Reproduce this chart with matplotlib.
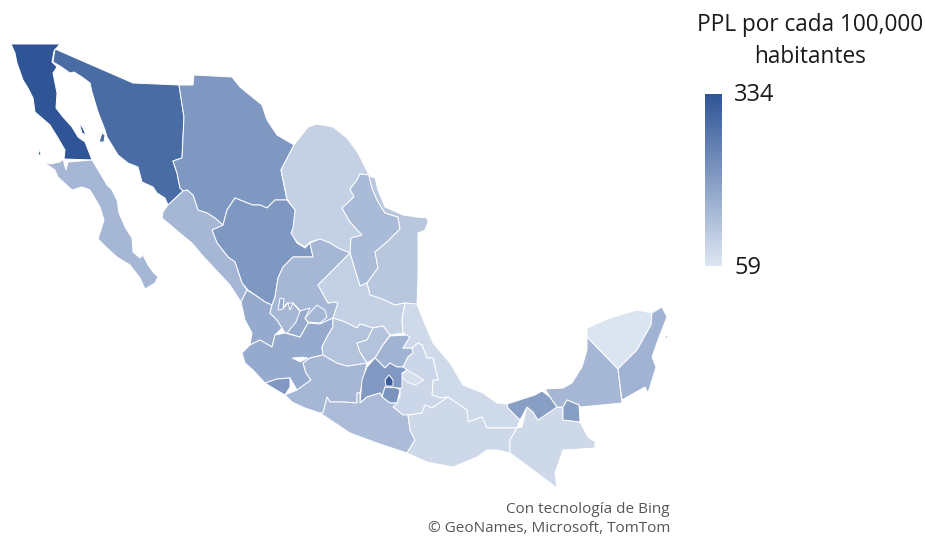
import matplotlib
matplotlib.use('Agg')
import matplotlib.pyplot as plt
import numpy as np
from matplotlib.colors import LinearSegmentedColormap, Normalize
from matplotlib.patches import Polygon

plt.rcParams['font.family'] = ['Open Sans', 'DejaVu Sans']

# PPL per 100,000
states = ['Baja California', 'Baja California Sur', 'Sonora', 'Chihuahua', 'Coahuila',
          'Nuevo Leon', 'Tamaulipas', 'Durango', 'Sinaloa', 'Nayarit', 'Zacatecas',
          'San Luis Potosi', 'Jalisco', 'Colima', 'Michoacan', 'Guanajuato', 'Queretaro',
          'Hidalgo', 'Veracruz', 'Puebla', 'Tlaxcala', 'Edomex', 'Morelos', 'CDMX',
          'Guerrero', 'Oaxaca', 'Chiapas', 'Tabasco', 'Campeche', 'Yucatan', 'Quintana Roo']
values = [334, 148, 290, 208, 100, 141, 120, 208, 148, 172, 148, 100, 172, 205, 148, 125, 125,
          155, 84, 90, 75, 205, 215, 318, 138, 86, 86, 196, 148, 64, 155]

# outlines in map units (top-left origin)
baja_california = [(11,44),(60,44),(54,51),(52,62),(57,67),(53,73),(57,93),(56,108),(63,117),(72,127),(78,137),(85,142),(92,160),(64,159),(65,150),(58,138),(50,125),(35,112),(33,98),(28,88),(23,80),(17,63),(15,53)]
baja_sur = [(43,162),(50,164),(60,162),(63,159),(66,170),(68,162),(92,160),(100,173),(107,185),(112,190),(117,200),(119,213),(125,227),(132,238),(133,252),(140,258),(143,255),(148,265),(153,272),(158,277),(155,283),(145,289),(140,278),(130,265),(117,257),(107,248),(98,239),(104,220),(100,207),(90,190),(82,187),(72,190),(58,177),(55,170)]
sonora = [(55,49),(133,83),(179,85),(184,117),(182,158),(173,161),(177,173),(180,188),(183,191),(168,205),(165,198),(157,193),(153,187),(142,182),(138,167),(128,163),(118,155),(107,137),(105,130),(98,112),(92,92),(90,83),(82,77),(74,72),(70,73),(60,66),(53,62)]
chihuahua = [(179,85),(193,85),(194,75),(232,77),(240,87),(262,105),(267,120),(277,135),(294,145),(281,170),(287,200),(275,200),(267,208),(260,205),(253,205),(245,202),(235,198),(227,210),(223,225),(215,218),(207,213),(198,210),(193,195),(187,190),(183,191),(180,188),(177,173),(173,161),(182,158),(184,117)]
coahuila = [(294,145),(308,127),(317,124),(333,127),(347,138),(358,153),(369,175),(360,174),(357,180),(350,189),(354,197),(342,208),(350,222),(362,235),(351,238),(350,253),(338,248),(330,243),(320,239),(310,242),(305,247),(297,242),(291,234),(293,227),(295,210),(287,199),(281,170)]
nuevo_leon = [(369,175),(372,188),(377,200),(385,213),(398,217),(400,229),(387,242),(375,252),(378,268),(367,283),(360,286),(355,270),(350,253),(351,238),(362,235),(350,222),(342,208),(354,197),(350,189),(357,180),(360,174)]
tamaulipas = [(369,176),(375,178),(378,190),(385,207),(403,215),(417,217),(427,218),(428,222),(425,230),(418,233),(418,253),(418,277),(417,305),(405,303),(395,305),(382,299),(370,295),(367,283),(378,268),(375,252),(387,242),(400,229),(398,217),(385,213),(377,200),(372,188)]
durango = [(235,198),(245,202),(253,205),(260,205),(267,208),(275,200),(287,200),(295,210),(293,228),(291,233),(297,243),(305,248),(310,243),(313,257),(293,257),(283,267),(278,278),(275,297),(272,305),(265,302),(258,297),(248,290),(242,283),(235,262),(228,257),(217,243),(212,230),(223,225),(227,210)]
sinaloa = [(168,205),(183,191),(187,190),(193,195),(198,210),(207,213),(215,218),(223,225),(212,230),(217,243),(228,257),(235,262),(242,283),(247,290),(241,302),(230,285),(202,255),(192,243),(182,235),(168,223),(162,218),(163,212)]
nayarit = [(247,290),(258,297),(265,302),(272,305),(270,313),(277,320),(282,328),(275,335),(272,347),(260,340),(250,345),(252,333),(245,320),(241,302)]
zacatecas = [(293,257),(313,257),(310,243),(320,239),(330,243),(338,248),(350,253),(330,273),(318,285),(328,303),(335,302),(338,303),(333,318),(320,324),(308,323),(300,337),(285,333),(282,328),(277,320),(270,313),(272,305),(275,297),(278,278),(283,267)]
san_luis = [(350,253),(355,270),(360,286),(367,283),(370,295),(382,299),(395,305),(405,303),(402,320),(403,333),(390,335),(383,326),(373,328),(360,324),(357,328),(345,322),(333,318),(338,303),(335,302),(328,303),(318,285),(330,273)]
jalisco = [(242,353),(250,345),(260,340),(272,347),(275,335),(285,333),(300,337),(308,323),(320,324),(333,318),(333,327),(328,335),(322,347),(323,355),(310,358),(303,363),(306,373),(311,380),(297,390),(290,378),(277,379),(265,383),(253,370),(245,363)]
jalisco_norte = [(280,298),(284,299),(283,308),(288,303),(290,310),(293,303),(300,311),(296,322),(287,333),(300,337),(308,323),(305,318),(310,308),(300,311),(293,303),(287,303),(283,309),(278,310)]
aguascalientes = [(305,318),(317,305),(325,310),(327,317),(320,323),(308,322)]
colima = [(265,383),(277,379),(290,378),(290,387),(285,395),(273,388)]
michoacan = [(285,395),(297,390),(311,380),(306,373),(303,363),(310,358),(323,355),(337,363),(347,366),(367,363),(360,393),(357,393),(357,403),(343,402),(330,402),(327,397),(323,413),(320,413),(305,408),(292,402)]
guanajuato = [(333,318),(345,322),(357,328),(360,324),(373,328),(367,340),(357,343),(360,352),(367,363),(347,366),(337,363),(323,355),(322,347),(328,335),(333,327)]
queretaro = [(357,343),(367,340),(373,328),(383,326),(390,335),(383,345),(375,358),(367,363),(360,352)]
hidalgo = [(375,358),(383,345),(390,336),(407,335),(410,337),(403,348),(412,348),(413,353),(408,357),(403,367),(397,367),(390,363),(385,368)]
veracruz = [(417,304),(405,303),(402,320),(403,333),(410,337),(403,348),(412,348),(418,343),(422,345),(427,358),(433,358),(438,380),(433,380),(432,395),(440,398),(448,397),(467,410),(468,422),(482,417),(487,428),(517,428),(520,420),(508,408),(507,404),(497,403),(483,393),(463,385),(450,363),(433,343),(422,317)]
puebla = [(418,343),(412,348),(413,353),(408,357),(403,367),(407,370),(400,377),(400,397),(393,407),(403,415),(408,415),(422,413),(425,405),(432,408),(448,397),(440,398),(432,395),(433,380),(438,380),(433,358),(427,358),(422,345)]
tlaxcala = [(400,375),(407,370),(424,380),(415,385),(407,382)]
edomex = [(375,358),(385,368),(390,363),(397,367),(403,367),(407,370),(402,373),(402,388),(397,388),(385,387),(382,397),(380,393),(367,397),(360,403),(362,380),(367,367)]
morelos = [(385,387),(397,388),(400,390),(397,403),(390,403),(382,397)]
cdmx = [(389,375),(393,380),(393,386),(386,386),(385,380)]
guerrero = [(320,413),(323,413),(327,397),(330,402),(343,402),(357,403),(357,393),(360,393),(360,403),(367,397),(380,393),(382,397),(390,403),(397,403),(393,407),(403,415),(408,415),(410,430),(415,440),(407,453),(377,443),(350,433),(335,423)]
oaxaca = [(408,415),(422,413),(425,405),(432,408),(448,397),(467,410),(468,422),(482,417),(487,428),(517,428),(510,440),(510,453),(497,450),(487,450),(477,457),(453,467),(427,462),(407,453),(415,440),(410,430)]
chiapas = [(517,428),(522,427),(527,407),(533,412),(538,420),(555,407),(563,408),(563,420),(580,422),(588,437),(595,442),(595,448),(563,450),(555,473),(557,488),(533,470),(510,453),(510,440)]
tabasco = [(507,404),(535,395),(542,391),(550,397),(557,407),(538,420),(533,412),(527,407),(520,420),(508,408)]
campeche = [(587,337),(618,369),(622,403),(580,407),(579,405),(567,400),(563,407),(557,407),(550,397),(545,389),(563,388),(572,383),(582,367),(587,350)]
yucatan = [(587,337),(587,328),(610,318),(637,310),(652,313),(651,325),(637,350),(618,369)]
quintana_roo = [(652,313),(662,307),(667,317),(663,327),(658,340),(652,357),(656,367),(648,393),(645,387),(622,400),(618,369),(637,350),(651,325)]

outlines = [baja_california, baja_sur, sonora, chihuahua, coahuila, nuevo_leon, tamaulipas, durango,
            sinaloa, nayarit, zacatecas, san_luis, jalisco, colima, michoacan, guanajuato, queretaro,
            hidalgo, veracruz, puebla, tlaxcala, edomex, morelos, cdmx, guerrero, oaxaca, chiapas,
            tabasco, campeche, yucatan, quintana_roo]

# small pieces that belong to a state
tabasco_east = [(563,407),(567,400),(579,405),(580,422),(563,420)]
isla_guadalupe = [(40,149),(41,155),(38,155)]
isla_angel = [(79,123),(83,128),(86,135),(82,133)]
isla_tiburon = [(102,133),(105,135),(104,142),(99,142)]
isla_cozumel = [(667,334),(668,337),(664,340)]
extras = [tabasco_east, isla_guadalupe, isla_angel, isla_tiburon, isla_cozumel, jalisco_norte, aguascalientes]
extra_values = [196, 334, 334, 290, 155, 172, 148]

lago_chapala = [(292,358),(303,357),(308,358),(300,362)]

vmin, vmax = 59, 334
title_lines = 'PPL por cada 100,000\nhabitantes'
attribution = 'Con tecnología de Bing\n© GeoNames, Microsoft, TomTom'

cmap = LinearSegmentedColormap.from_list('ppl', ['#DEE6F2', '#2F5597'])
norm = Normalize(vmin, vmax)

fig = plt.figure(figsize=(9.25, 5.4), dpi=100)
ax = fig.add_axes([0, 0, 1, 1])
ax.set_xlim(0, 925)
ax.set_ylim(540, 0)
ax.axis('off')

for outline, v in zip(outlines + extras, values + extra_values):
    ax.add_patch(Polygon(outline, closed=True, facecolor=cmap(norm(v)), edgecolor='white', linewidth=0.7))
ax.add_patch(Polygon(lago_chapala, closed=True, facecolor='white', edgecolor='white', linewidth=0.5))

# legend
grad = np.linspace(vmax, vmin, 256).reshape(-1, 1)
ax.imshow(grad, cmap=cmap, norm=norm, extent=(705, 722, 266, 94), aspect='auto', zorder=3)
ax.set_xlim(0, 925)
ax.set_ylim(540, 0)

ax.text(810, 41, title_lines, ha='center', va='center', fontsize=16.3, color='#1a1a1a', linespacing=1.42)
ax.text(734, 95, str(vmax), ha='left', va='center', fontsize=17, color='#1a1a1a')
ax.text(734, 268, str(vmin), ha='left', va='center', fontsize=17, color='#1a1a1a')
ax.text(670, 519, attribution, ha='right', va='center', fontsize=11, color='#555555', linespacing=1.35)

fig.savefig('out.png', dpi=100, facecolor='white')
